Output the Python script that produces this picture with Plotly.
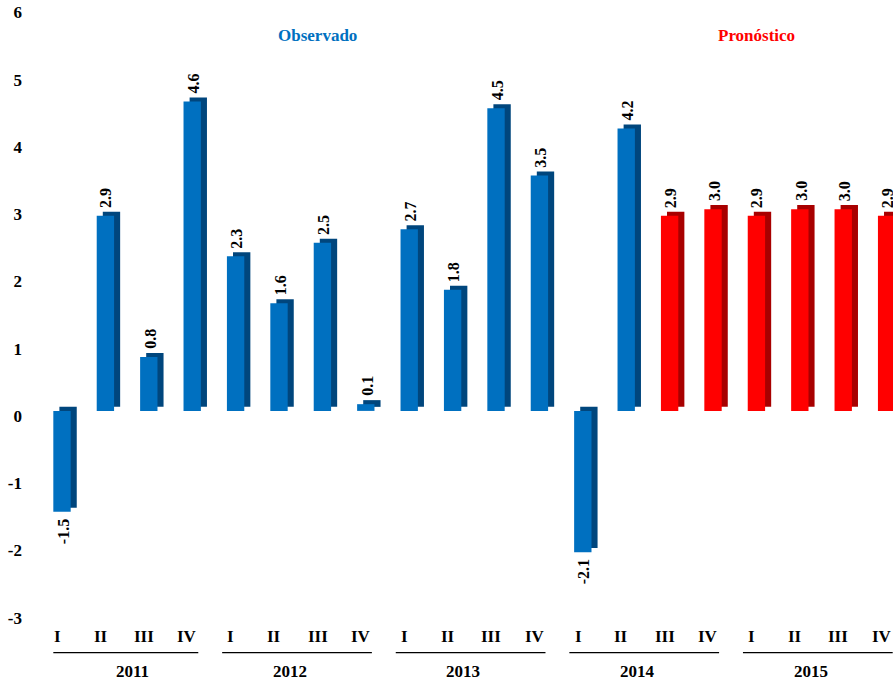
import plotly.graph_objects as go

quarters = ["I", "II", "III", "IV"] * 5
years = ["2011", "2012", "2013", "2014", "2015"]
values = [-1.5, 2.9, 0.8, 4.6, 2.3, 1.6, 2.5, 0.1, 2.7, 1.8, 4.5, 3.5,
          -2.1, 4.2, 2.9, 3.0, 2.9, 3.0, 3.0, 2.9]
value_labels = ["-1.5", "2.9", "0.8", "4.6", "2.3", "1.6", "2.5", "0.1", "2.7", "1.8",
                "4.5", "3.5", "-2.1", "4.2", "2.9", "3.0", "2.9", "3.0", "3.0", "2.9"]
is_forecast = [False] * 14 + [True] * 6
ytick_vals = [-3, -2, -1, 0, 1, 2, 3, 4, 5, 6]
ytick_text = ["-3", "-2", "-1", "0", "1", "2", "3", "4", "5", "6"]

FONT = "Liberation Serif"
BLUE, BLUE_DARK = "#0070C0", "#00467D"
RED, RED_DARK = "#FF0000", "#A80000"

xs = list(range(len(values)))
front_colors = [RED if f else BLUE for f in is_forecast]
side_colors = [RED_DARK if f else BLUE_DARK for f in is_forecast]

BAR_W = 0.4
DEPTH_X = 0.14
DEPTH_Y = 0.06

fig = go.Figure()
# depth (side + top) faces
fig.add_trace(go.Bar(x=xs, y=values, base=[DEPTH_Y] * len(values), width=BAR_W,
                     offset=-BAR_W / 2 + DEPTH_X, marker=dict(color=side_colors, line_width=0),
                     hoverinfo="skip", showlegend=False))
# front faces
fig.add_trace(go.Bar(x=xs, y=values, width=BAR_W, offset=-BAR_W / 2,
                     marker=dict(color=front_colors, line_width=0),
                     showlegend=False))

annotations = []
for i, (v, lab) in enumerate(zip(values, value_labels)):
    annotations.append(dict(
        x=i + 0.02, y=v, xref="x", yref="y", text=f"<b>{lab}</b>", showarrow=False,
        textangle=-90, font=dict(family=FONT, size=16, color="black"),
        yanchor="bottom" if v >= 0 else "top",
        yshift=6 if v >= 0 else -5))

# quarter labels
for i, q in enumerate(quarters):
    annotations.append(dict(
        x=i - 0.11, y=-0.036, xref="x", yref="paper", text=f"<b>{q}</b>",
        showarrow=False, font=dict(family=FONT, size=17, color="black"),
        yanchor="middle"))

shapes = []
for g, yr in enumerate(years):
    x0 = 4 * g - 0.31 if g > 0 else -0.2
    x1 = 4 * g + 3.14
    shapes.append(dict(type="line", xref="x", yref="paper", x0=x0, x1=x1,
                       y0=-0.063, y1=-0.063, line=dict(color="black", width=1.3)))
    xc = 4 * g + 1.25 if g > 0 else 1.62
    annotations.append(dict(
        x=xc, y=-0.094, xref="x", yref="paper", text=f"<b>{yr}</b>",
        showarrow=False, font=dict(family=FONT, size=17, color="black"),
        yanchor="middle"))

annotations.append(dict(x=5.88, y=5.58, xref="x", yref="y", text="<b>Observado</b>",
                        showarrow=False, font=dict(family=FONT, size=17, color=BLUE)))
annotations.append(dict(x=16.01, y=5.58, xref="x", yref="y", text="<b>Pronóstico</b>",
                        showarrow=False, font=dict(family=FONT, size=17, color=RED)))

fig.update_layout(
    width=893, height=681,
    margin=dict(l=35, r=0, t=2, b=67),
    paper_bgcolor="white", plot_bgcolor="white",
    barmode="overlay",
    xaxis=dict(range=[-0.622, 19.147], showticklabels=False, showgrid=False,
               zeroline=False, showline=False, ticks=""),
    yaxis=dict(range=[-3.02, 6.08], tickvals=ytick_vals, ticktext=ytick_text,
               showgrid=False, zeroline=False,
               showline=False, ticks="", ticklabelstandoff=12, ticklabelshift=5,
               tickfont=dict(family=FONT, size=17, color="black", weight="bold")),
    annotations=annotations, shapes=shapes,
)

fig.write_html("out.html")
